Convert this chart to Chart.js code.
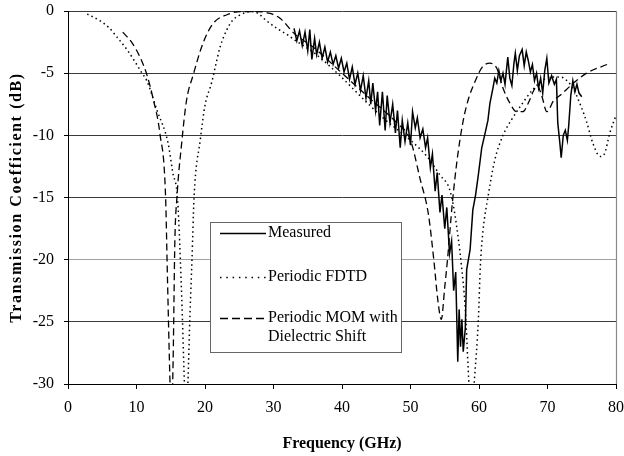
<!DOCTYPE html>
<html><head><meta charset="utf-8">
<script src="https://cdn.jsdelivr.net/npm/chart.js@4.4.1/dist/chart.umd.min.js"></script>
<style>html,body{margin:0;padding:0;background:#fff;}canvas{display:block;}</style>
</head><body>
<canvas id="c" width="624" height="456"></canvas>
<script>
// ---- data ----
const seriesNames = ['Measured', 'Periodic FDTD', 'Periodic MOM with Dielectric Shift'];
const xTickValues = [0, 10, 20, 30, 40, 50, 60, 70, 80];
const yTickValues = [0, -5, -10, -15, -20, -25, -30];
const xTitle = 'Frequency (GHz)';
const yTitle = 'Transmission Coefficient (dB)';

const measuredFreq = [33.0,33.4,33.8,34.2,34.6,35.0,35.3,35.6,36.0,36.3,36.7,37.1,37.5,37.9,38.3,38.7,39.1,39.5,39.9,40.3,40.7,41.1,41.5,41.9,42.3,42.7,43.1,43.5,43.9,44.2,44.5,44.9,45.2,45.5,45.9,46.3,46.6,47.0,47.4,47.8,48.1,48.5,48.8,49.2,49.6,50.0,50.3,50.7,51.0,51.4,51.8,52.2,52.5,52.9,53.2,53.6,53.9,54.3,54.6,55.0,55.3,55.7,56.0,56.3,56.6,56.9,57.1,57.3,57.5,57.7,58.0,58.2,58.7,59.1,59.5,59.9,60.4,60.9,61.3,61.6,62.0,62.3,62.6,62.9,63.2,63.5,63.8,64.2,64.5,64.8,65.1,65.3,65.6,65.9,66.3,66.6,66.9,67.2,67.5,67.8,68.1,68.4,68.7,69.0,69.3,69.6,69.9,70.2,70.6,71.0,71.3,71.5,71.8,72.0,72.3,72.6,72.9,73.1,73.4,73.7,74.0,74.3,74.6,75.0];
const measuredDb = [-1.4,-2.4,-1.6,-2.8,-1.7,-3.2,-1.5,-3.9,-2.2,-3.5,-2.5,-3.8,-2.9,-4.1,-3.3,-4.3,-3.6,-4.6,-3.8,-4.9,-4.2,-5.5,-4.5,-5.9,-5.0,-6.4,-5.2,-7.0,-5.6,-7.5,-5.8,-8.0,-6.5,-9.2,-6.5,-9.6,-6.8,-9.0,-7.5,-9.8,-8.0,-11.0,-8.8,-10.5,-9.0,-10.8,-8.1,-9.4,-8.6,-10.2,-9.5,-11.0,-10.2,-12.6,-11.5,-14.5,-13.0,-16.2,-14.8,-17.5,-15.8,-19.5,-18.5,-22.5,-21.0,-28.2,-24.0,-27.0,-24.8,-27.4,-25.5,-20.8,-19.2,-16.0,-14.8,-13.2,-11.0,-9.8,-8.8,-7.4,-6.3,-5.4,-5.8,-4.8,-5.6,-5.0,-5.9,-3.7,-5.4,-6.0,-4.2,-3.4,-4.8,-3.6,-3.1,-4.4,-3.3,-4.0,-4.9,-4.3,-5.6,-5.0,-6.2,-5.4,-6.6,-4.8,-3.8,-5.8,-5.2,-5.9,-5.5,-9.0,-10.6,-11.8,-10.0,-9.6,-10.4,-9.2,-6.8,-5.6,-6.5,-5.9,-6.6,-6.9];

const fdtdFreq = [2.8,4.4,5.9,7.3,8.6,9.8,10.8,11.5,13.0,14.6,15.3,16.0,16.6,17.0,17.25,17.5,17.8,18.1,18.4,19.3,20.0,21.0,21.5,22.2,23.2,24.1,25.0,26.1,27.0,28.0,28.8,30.5,32.0,33.0,36.0,39.7,42.6,46.0,50.0,52.4,54.3,55.8,56.6,57.4,58.0,58.4,58.85,59.35,59.9,60.2,60.6,61.3,62.3,63.5,64.8,66.0,67.9,69.9,71.8,73.7,74.7,75.7,76.6,77.7,78.3,79.1,80.0];
const fdtdDb = [-0.25,-0.7,-1.3,-2.2,-3.1,-4.1,-5.0,-5.6,-8.0,-10.6,-13.0,-15.2,-23.0,-30.0,-33.0,-30.0,-24.5,-20.0,-15.0,-10.4,-7.6,-5.7,-4.5,-2.9,-1.5,-0.7,-0.35,-0.1,-0.05,-0.3,-0.7,-1.4,-1.9,-2.3,-3.4,-5.2,-6.8,-8.6,-10.4,-11.7,-13.2,-14.5,-16.8,-20.3,-24.0,-28.5,-33.0,-29.5,-24.9,-20.5,-17.6,-15.0,-12.0,-10.0,-8.7,-7.7,-6.3,-5.4,-5.3,-6.2,-7.4,-8.9,-10.6,-11.7,-11.5,-9.8,-8.4];

const momFreq = [8.0,9.4,10.5,11.5,12.4,13.4,14.25,14.5,14.9,15.1,15.35,15.6,15.9,16.6,17.3,18.3,19.7,21.2,23.2,25.2,27.5,29.5,31.0,33.0,36.0,40.0,44.0,48.0,50.0,51.4,52.6,53.4,54.0,54.5,55.0,55.4,56.1,56.8,57.7,58.5,59.4,60.5,61.6,62.6,63.5,64.5,65.5,66.4,67.2,67.9,68.5,69.2,69.9,70.9,71.8,73.8,75.7,78.7];
const momDb = [-1.7,-2.6,-3.7,-5.1,-7.0,-9.8,-15.0,-21.0,-30.0,-33.0,-28.0,-18.5,-15.0,-10.6,-7.2,-5.1,-2.6,-1.0,-0.3,-0.05,-0.05,-0.2,-0.6,-1.8,-3.0,-5.0,-7.0,-9.0,-10.4,-13.5,-16.3,-20.0,-23.3,-24.8,-22.2,-20.0,-15.5,-12.0,-8.8,-7.0,-5.7,-4.5,-4.2,-4.6,-6.2,-7.4,-8.1,-8.1,-7.4,-6.5,-6.0,-6.9,-8.1,-7.2,-6.8,-5.8,-5.0,-4.3];

// ---- helpers ----
const pts = (xs, ys) => xs.map((x, i) => ({ x: x, y: ys[i] }));
const FONT = 'Liberation Serif, Times New Roman, serif';

const styles = [
  { borderDash: [], borderWidth: 1.5, legendDash: [] },
  { borderDash: [1.5, 3.2], borderWidth: 1.5, legendDash: [1.5, 4.8] },
  { borderDash: [7, 4], borderWidth: 1.3, legendDash: [8, 4] }
];

const overlay = {
  id: 'overlay',
  beforeDatasetsDraw(chart) {
    const { ctx, chartArea: a } = chart;
    ctx.save();
    ctx.strokeStyle = '#8a8a8a';
    ctx.lineWidth = 1.2;
    const xr = Math.round(a.right) + 0.5;
    ctx.beginPath(); ctx.moveTo(xr, a.top); ctx.lineTo(xr, a.bottom); ctx.stroke();
    ctx.restore();
  },
  afterDraw(chart) {
    const { ctx, chartArea: a } = chart;
    ctx.save();
    // legend box
    const bx = 210.5, by = 222.5, bw = 191, bh = 130;
    ctx.fillStyle = '#fff';
    ctx.fillRect(bx, by, bw, bh);
    ctx.strokeStyle = '#666';
    ctx.lineWidth = 1;
    ctx.setLineDash([]);
    ctx.strokeRect(bx, by, bw, bh);
    const rows = [233, 277, 318];
    const lines = [['Measured'], ['Periodic FDTD'], ['Periodic MOM with', 'Dielectric Shift']];
    ctx.font = '16px ' + FONT;
    ctx.textBaseline = 'middle';
    ctx.textAlign = 'left';
    ctx.fillStyle = '#000';
    rows.forEach((y, i) => {
      ctx.strokeStyle = '#000';
      ctx.lineWidth = styles[i].borderWidth;
      ctx.setLineDash(styles[i].legendDash);
      ctx.beginPath(); ctx.moveTo(220, y + 0.5); ctx.lineTo(266, y + 0.5); ctx.stroke();
      lines[i].forEach((t, k) => ctx.fillText(t, 268, y + k * 19));
    });
    ctx.setLineDash([]);
    // y axis title
    ctx.translate(17, (a.top + a.bottom) / 2);
    ctx.rotate(-Math.PI / 2);
    ctx.font = 'bold 16px ' + FONT;
    ctx.letterSpacing = '1.6px';
    ctx.textAlign = 'center';
    ctx.textBaseline = 'middle';
    ctx.fillText(yTitle, 0, 0);
    ctx.restore();
  }
};

new Chart(document.getElementById('c'), {
  type: 'scatter',
  data: {
    datasets: [
      { label: seriesNames[0], data: pts(measuredFreq, measuredDb), tension: 0 },
      { label: seriesNames[1], data: pts(fdtdFreq, fdtdDb), cubicInterpolationMode: 'monotone' },
      { label: seriesNames[2], data: pts(momFreq, momDb), cubicInterpolationMode: 'monotone' }
    ].map((d, i) => Object.assign(d, {
      showLine: true, pointRadius: 0, borderColor: '#000', backgroundColor: '#000',
      borderWidth: styles[i].borderWidth, borderDash: styles[i].borderDash, clip: 0, fill: false
    }))
  },
  options: {
    responsive: false,
    animation: false,
    devicePixelRatio: 1,
    layout: { padding: { top: 11, right: 8, left: 0, bottom: 0 } },
    plugins: { legend: { display: false }, tooltip: { enabled: false } },
    scales: {
      x: {
        type: 'linear', min: 0, max: 80,
        afterBuildTicks: s => { s.ticks = xTickValues.map(v => ({ value: v })); },
        afterFit: s => { s.height = 72; s.paddingLeft = 0; s.paddingRight = 0; },
        grid: { drawOnChartArea: false, tickLength: 5, color: '#000', tickColor: '#000' },
        border: { color: '#000', width: 1 },
        ticks: { color: '#000', font: { family: FONT, size: 16 }, padding: 9, maxRotation: 0, autoSkip: false },
        title: { display: true, text: xTitle, color: '#000', font: { family: FONT, size: 16, weight: 'bold' }, padding: { top: 0, bottom: 3 } }
      },
      y: {
        type: 'linear', min: -30, max: 0,
        afterBuildTicks: s => { s.ticks = yTickValues.map(v => ({ value: v })); },
        afterFit: s => { s.width = 68; s.paddingTop = 0; s.paddingBottom = 0; },
        grid: {
          tickLength: 4,
          color: c => (c.tick && c.tick.value === -20) ? '#a0a0a0' : '#3a3a3a',
          tickColor: '#000'
        },
        border: { color: '#000', width: 1 },
        ticks: { color: '#000', font: { family: FONT, size: 16 }, padding: 10, autoSkip: false, callback: v => String(v) }
      }
    }
  },
  plugins: [overlay]
});
</script>
</body></html>
